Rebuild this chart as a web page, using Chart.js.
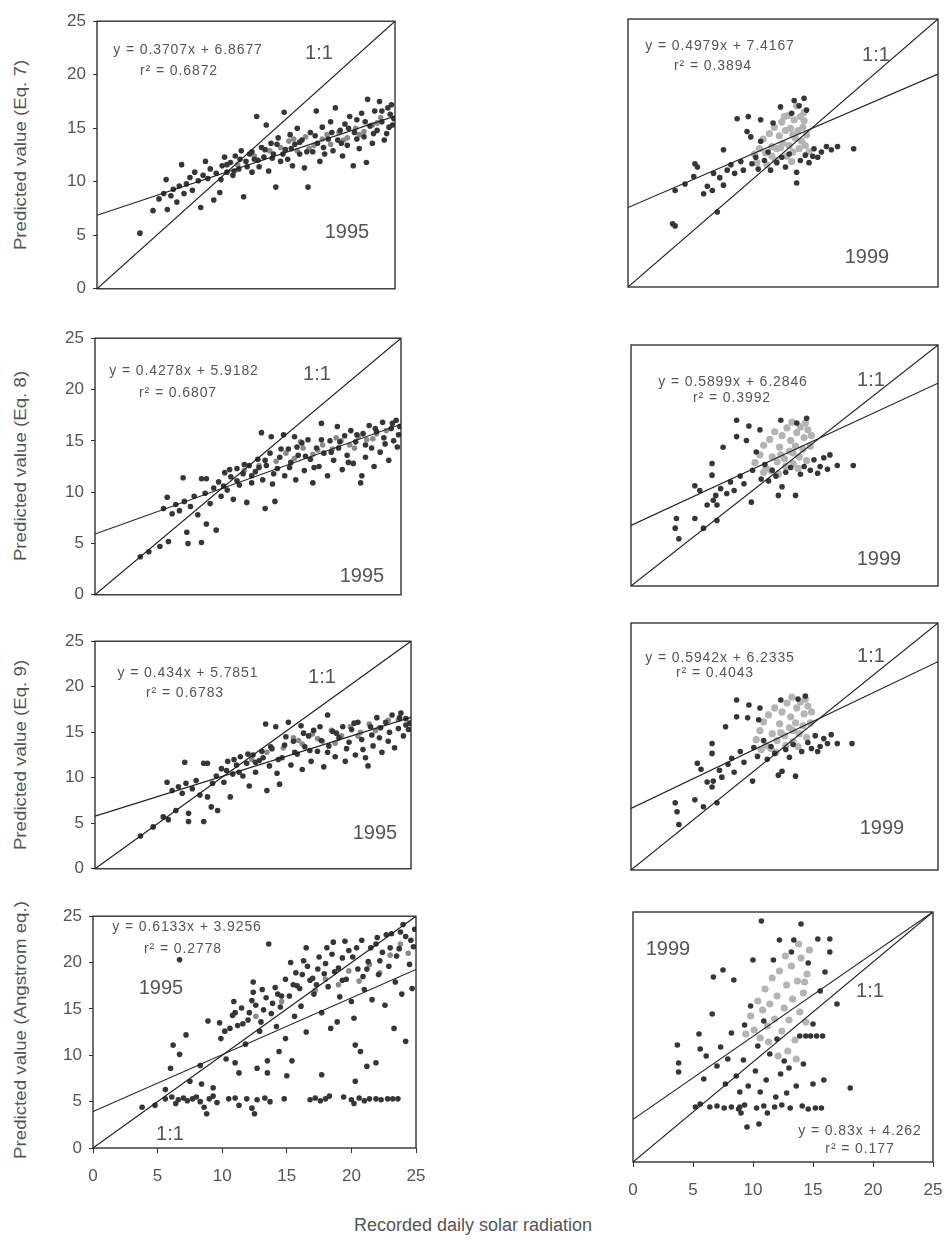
<!DOCTYPE html>
<html><head><meta charset="utf-8">
<script src="https://cdn.jsdelivr.net/npm/chart.js@4/dist/chart.umd.min.js"></script>
<style>
body{margin:0;background:#fff;width:945px;height:1242px;position:relative;overflow:hidden;font-family:'Liberation Sans',Arial,sans-serif;color:#4a4a4a}
canvas{position:absolute}
.t{position:absolute;transform:translate(-50%,-50%);white-space:nowrap;line-height:1}
.eq{font-size:14px;letter-spacing:0.9px;color:#555}
.big{font-size:20px;color:#555}
.yt{position:absolute;white-space:nowrap;line-height:1;font-size:17px;color:#555;transform:translate(-50%,-50%) rotate(-90deg) scaleX(1.1)}
.xt{font-size:18px;color:#555}
</style></head><body>
<script>
// ---------- DATA ----------
const axisTicks = [0, 5, 10, 15, 20, 25];
const yAxisTitles = ["Predicted value (Eq. 7)", "Predicted value (Eq. 8)", "Predicted value (Eq. 9)", "Predicted value (Angstrom eq.)"];
const xAxisTitle = "Recorded daily solar radiation";
const years = ["1995", "1999"];

const slopes1995 = [0.3707, 0.4278, 0.434, 0.6133];
const intercepts1995 = [6.8677, 5.9182, 5.7851, 3.9256];
const r2_1995 = ["0.6872", "0.6807", "0.6783", "0.2778"];
const slopes1999 = [0.4979, 0.5899, 0.5942, 0.83];
const intercepts1999 = [7.4167, 6.2846, 6.2335, 4.262];
const r2_1999 = ["0.3894", "0.3992", "0.4043", "0.177"];

const eq7_1995 = [[3.6,5.2],[4.7,7.3],[5.2,8.4],[5.6,8.9],[5.8,10.2],[5.9,7.4],[6.2,8.7],[6.4,9.3],[6.7,8.1],[6.9,9.6],[7.1,11.6],[7.3,8.9],[7.5,9.8],[7.8,10.4],[8.0,9.2],[8.2,10.9],[8.5,10.1],[8.7,7.6],[8.9,10.6],[9.1,11.9],[9.3,10.3],[9.5,11.2],[9.8,8.3],[10.0,10.8],[10.3,9.0],[10.5,11.5],[10.7,12.3],[10.9,10.9],[11.2,11.8],[11.4,10.6],[11.6,12.4],[11.9,11.2],[12.1,12.9],[12.3,8.6],[12.5,11.9],[12.8,12.6],[13.0,10.9],[13.2,12.1],[13.4,16.1],[13.6,11.4],[13.8,13.2],[14.0,12.3],[14.2,15.3],[14.4,11.0],[14.6,13.6],[14.8,12.6],[15.0,9.5],[15.2,14.1],[15.4,11.9],[15.7,16.5],[15.8,13.0],[16.0,12.1],[16.2,14.4],[16.4,11.5],[16.6,13.5],[16.8,15.0],[17.0,12.6],[17.2,13.9],[17.4,11.3],[17.7,9.5],[17.9,14.6],[18.1,12.8],[18.4,16.6],[18.5,13.6],[18.7,11.9],[18.9,15.1],[19.1,12.6],[19.4,14.0],[19.6,15.6],[19.8,12.9],[20.0,16.9],[20.2,13.9],[20.4,14.8],[20.6,12.4],[20.8,15.4],[21.0,13.4],[21.2,16.1],[21.5,11.5],[21.6,14.6],[21.8,15.8],[22.0,13.1],[22.2,16.4],[22.4,14.2],[22.6,11.8],[22.7,17.7],[22.9,15.2],[23.1,13.6],[23.3,16.6],[23.5,14.8],[23.7,17.5],[23.9,15.6],[24.1,13.9],[24.3,14.5],[24.4,16.9],[24.6,16.3],[24.8,15.3],[24.9,15.9],
 [10.4,10.2],[10.9,11.6],[11.5,11.0],[12.0,12.1],[12.6,11.4],[13.0,12.8],[13.5,12.0],[14.1,13.0],[14.7,12.2],[15.1,13.5],[15.6,12.6],[16.3,13.1],[17.0,13.7],[17.6,12.8],[18.3,14.3],[19.0,13.2],[19.7,14.6],[20.5,13.6],[21.1,15.0],[21.8,14.0],[22.5,15.6],[23.2,14.5],[23.9,16.6],[24.5,15.1],[24.7,17.2]];
const eq7_1995core = [[15.4,13.2],[16.1,13.8],[16.8,12.9],[17.5,14.2],[18.2,13.4],[18.9,14.0],[19.6,13.5],[20.3,14.6],[21.0,14.1],[21.7,15.0],[22.4,14.7],[23.1,15.3],[23.8,16.0],[13.2,12.4],[14.5,12.9],[11.8,11.6],[16.5,14.0],[17.8,13.1],[19.3,14.4],[20.7,13.9],[22.0,14.4],[23.5,15.5]];

const eq8_1995 = [[3.7,3.7],[4.4,4.2],[5.3,4.7],[5.6,8.4],[5.9,9.5],[6.0,5.2],[6.3,7.9],[6.6,8.8],[6.9,8.2],[7.2,11.4],[7.3,9.1],[7.5,6.1],[7.6,5.0],[7.8,8.6],[8.1,9.6],[8.4,7.8],[8.7,5.1],[8.7,11.3],[9.0,9.9],[9.1,6.9],[9.1,11.3],[9.4,8.9],[9.7,10.4],[9.9,6.3],[10.1,11.0],[10.3,9.6],[10.6,11.9],[10.8,10.2],[11.1,11.5],[11.3,9.3],[11.6,12.3],[11.8,10.7],[12.1,11.8],[12.4,9.0],[12.6,12.6],[12.8,10.9],[13.1,12.0],[13.3,13.2],[13.6,15.8],[13.7,11.2],[13.9,8.4],[14.0,12.6],[14.3,13.8],[14.4,15.4],[14.5,10.8],[14.7,9.1],[14.9,12.3],[15.1,13.4],[15.4,15.6],[15.5,11.6],[15.8,14.2],[16.0,12.9],[16.3,15.4],[16.4,11.2],[16.6,13.6],[16.9,14.8],[17.1,12.1],[17.4,15.1],[17.6,13.2],[17.8,10.9],[18.1,14.3],[18.3,12.5],[18.5,16.7],[18.7,13.8],[19.0,11.6],[19.2,15.0],[19.5,13.1],[19.8,16.4],[19.9,14.3],[20.2,12.2],[20.4,15.5],[20.6,13.6],[20.9,16.0],[21.1,12.8],[21.3,14.9],[21.7,10.9],[21.8,11.6],[21.9,15.7],[22.1,13.4],[22.4,16.5],[22.6,14.3],[22.8,12.5],[23.0,15.9],[23.3,13.9],[23.5,16.8],[23.7,14.7],[24.0,13.1],[24.2,16.2],[24.4,15.0],[24.6,17.0],[24.8,15.6],[24.9,16.4],
 [10.5,10.6],[11.0,12.2],[11.6,11.1],[12.2,12.7],[12.8,11.6],[13.4,12.4],[13.9,13.1],[14.6,11.8],[15.2,14.2],[15.9,12.4],[16.5,14.4],[17.2,13.5],[17.9,12.4],[18.5,15.1],[19.3,13.9],[20.0,14.9],[20.7,12.9],[21.4,15.6],[22.1,14.6],[22.9,16.2],[23.6,15.3],[24.3,16.7],[24.7,14.4]];
const eq8_1995core = [[14.8,13.0],[15.6,13.8],[16.3,13.3],[17.0,14.3],[17.8,13.7],[18.6,14.6],[19.4,14.2],[20.1,15.0],[20.8,14.6],[21.5,15.4],[22.2,15.1],[23.0,15.7],[23.8,16.0],[12.2,12.1],[13.4,12.6],[16.8,14.9],[18.2,14.1],[19.7,15.3],[21.2,14.3],[22.7,15.2]];

const eq9_1995 = [[3.6,3.6],[4.6,4.6],[5.4,5.7],[5.7,9.5],[5.8,5.4],[6.1,8.6],[6.4,6.4],[6.6,9.0],[6.9,8.3],[7.1,11.7],[7.2,9.4],[7.4,5.2],[7.4,6.1],[7.7,8.8],[8.0,9.7],[8.3,8.1],[8.6,5.2],[8.6,11.6],[8.9,7.9],[8.9,11.6],[9.2,6.8],[9.3,9.4],[9.6,10.2],[9.7,6.4],[10.0,11.0],[10.2,9.5],[10.5,11.8],[10.7,7.9],[10.9,10.4],[11.2,11.4],[11.5,12.3],[11.7,10.2],[12.0,11.6],[12.2,9.1],[12.5,12.5],[12.7,10.6],[13.0,11.9],[13.2,12.9],[13.5,15.9],[13.6,8.6],[13.8,11.3],[14.0,13.2],[14.3,15.6],[14.4,10.5],[14.6,9.3],[14.8,12.2],[15.0,13.6],[15.3,16.1],[15.5,11.4],[15.7,14.0],[16.0,12.6],[16.3,15.7],[16.4,10.9],[16.6,13.4],[16.9,14.6],[17.1,11.8],[17.3,15.2],[17.6,12.9],[17.9,14.1],[18.1,11.2],[18.4,16.9],[18.5,13.5],[18.8,15.1],[19.0,12.3],[19.3,14.4],[19.6,15.6],[19.8,11.8],[20.1,13.9],[20.3,15.3],[20.6,12.5],[20.8,16.1],[21.1,14.2],[21.4,12.2],[21.6,11.3],[21.8,15.6],[22.0,13.5],[22.3,16.6],[22.5,14.4],[22.7,12.8],[23.0,16.1],[23.2,14.0],[23.5,16.9],[23.7,13.3],[24.0,15.4],[24.2,17.1],[24.4,14.6],[24.6,16.5],[24.8,15.3],[24.9,16.0],
 [10.4,10.8],[11.0,12.0],[11.4,10.6],[12.1,12.6],[12.7,11.7],[13.3,12.2],[13.9,13.4],[14.5,12.0],[15.1,14.5],[15.8,12.8],[16.5,14.9],[17.0,13.0],[17.8,15.6],[18.4,12.8],[19.1,14.9],[19.9,13.2],[20.5,16.0],[21.2,13.1],[21.9,14.7],[22.6,15.5],[23.3,15.0],[24.1,16.6],[24.6,15.8]];
const eq9_1995core = [[14.9,13.3],[15.7,14.4],[16.4,13.7],[17.2,14.8],[18.0,14.0],[18.7,15.2],[19.5,14.6],[20.2,15.6],[21.0,15.0],[21.7,15.9],[22.5,15.5],[23.2,16.3],[24.0,16.4],[12.4,12.0],[13.6,12.8],[16.1,14.1],[17.6,14.3],[19.0,13.8],[20.8,14.6],[22.2,15.2]];

const ang_1995 = [[5.6,5.3],[6.1,5.5],[6.4,4.8],[6.6,5.2],[7.0,5.4],[7.3,5.1],[7.7,5.3],[8.0,5.5],[8.3,5.0],[8.6,4.4],[8.8,3.7],[9.0,5.3],[9.3,5.6],[9.6,4.9],[10.5,5.3],[11.0,5.4],[11.3,4.6],[11.9,5.3],[12.3,4.3],[12.5,3.7],[12.7,5.2],[13.3,5.4],[13.7,5.0],[14.8,5.3],[16.8,5.2],[17.2,5.4],[17.6,5.1],[18.0,5.3],[18.3,5.6],[19.4,5.5],[20.0,5.2],[20.2,4.8],[20.6,5.4],[21.0,5.1],[21.4,5.3],[21.9,5.3],[22.3,5.2],[22.8,5.3],[23.2,5.3],[23.6,5.3],
 [3.8,4.4],[4.8,4.6],[5.6,6.3],[6.0,8.6],[6.2,11.1],[6.7,10.1],[6.7,20.3],[7.2,12.2],[7.5,7.2],[8.3,8.9],[8.4,6.9],[8.9,13.7],[9.3,6.5],[9.8,13.5],[9.9,11.8],[10.3,9.6],[10.6,12.9],[10.9,15.8],[11.0,9.2],[11.3,8.1],[11.6,13.4],[11.8,11.2],[12.1,14.6],[12.4,17.9],[12.4,16.8],[12.7,8.6],[12.9,12.6],[13.2,14.9],[13.5,8.1],[13.5,9.4],[13.6,22.0],[13.9,15.6],[14.2,13.1],[14.4,10.4],[14.6,16.4],[14.9,11.8],[15.0,7.8],[15.3,20.0],[15.4,9.4],[15.6,14.2],[15.8,17.5],[16.1,15.3],[16.3,20.2],[16.5,21.6],[16.5,12.5],[16.8,18.1],[17.1,16.6],[17.4,19.3],[17.7,7.9],[17.7,14.6],[18.1,21.6],[18.2,17.4],[18.4,12.9],[18.6,22.2],[18.7,19.0],[18.9,13.6],[19.1,16.3],[19.3,20.5],[19.6,18.2],[19.8,21.3],[20.0,15.8],[20.2,14.0],[20.3,11.1],[20.3,7.2],[20.5,19.3],[20.7,10.4],[20.8,22.4],[21.0,17.1],[21.2,8.8],[21.3,20.1],[21.6,16.0],[21.9,9.2],[21.9,22.0],[22.1,18.7],[22.4,21.1],[22.6,15.4],[22.9,19.6],[23.1,23.1],[23.3,12.9],[23.4,17.9],[23.7,21.5],[23.9,16.6],[24.2,11.5],[24.2,22.8],[24.5,19.8],[24.7,17.2],[24.9,23.6],[24.8,21.7],
 [10.2,12.6],[10.8,14.3],[11.2,13.2],[11.5,15.1],[12.0,13.8],[12.6,15.4],[13.0,13.6],[13.4,16.2],[13.8,14.5],[14.1,17.3],[14.5,15.2],[14.9,18.2],[15.2,16.4],[15.7,18.9],[16.0,17.2],[16.6,19.6],[17.0,18.3],[17.5,20.6],[17.9,18.8],[18.5,20.9],[19.0,19.4],[19.5,22.3],[20.1,20.6],[20.9,18.5],[21.5,21.6],[22.2,20.2],[22.7,23.0],[23.5,20.7],[24.0,24.1],
 [11.0,14.6],[12.3,15.9],[13.1,17.1],[14.3,16.6],[15.5,17.6],[16.2,18.7],[17.3,17.6],[18.0,19.9],[19.3,18.1],[20.4,21.6],[21.2,19.3],[22.0,22.7],[23.0,21.6],[23.8,23.3],[24.6,22.4]];
const ang_1995core = [[17.2,17.0],[18.0,18.2],[19.0,17.6],[19.8,19.1],[20.6,18.0],[21.4,19.8],[22.2,18.9],[23.0,20.8],[23.8,22.0],[24.4,21.0],[12.6,14.2],[14.6,15.8]];

const eq7_1999 = [[3.6,5.9],[3.8,5.7],[3.8,9.0],[4.6,9.6],[5.3,10.3],[5.4,11.5],[5.6,11.2],[6.1,8.7],[6.4,9.4],[6.8,9.0],[6.9,10.6],[7.2,7.0],[7.4,10.2],[7.7,9.5],[7.7,12.8],[8.0,10.9],[8.3,11.4],[8.6,10.6],[8.8,15.7],[9.1,11.7],[9.3,10.9],[9.6,14.5],[9.7,15.9],[9.9,14.0],[10.0,11.5],[10.3,12.1],[10.5,11.0],[10.7,15.6],[10.7,13.6],[11.0,11.8],[11.3,12.6],[11.5,10.9],[11.7,15.3],[12.0,11.6],[12.3,16.8],[12.4,12.1],[12.7,11.2],[13.0,12.4],[13.2,16.2],[13.4,17.4],[13.6,9.7],[13.6,10.7],[13.8,16.9],[13.9,11.8],[14.2,17.6],[14.3,12.3],[14.4,16.5],[14.6,11.6],[14.9,12.2],[15.0,12.9],[15.3,12.1],[15.6,12.6],[16.0,13.1],[16.4,12.8],[16.9,13.1],[18.2,12.9]];
const eq7_1999core = [[10.2,12.4],[10.6,12.9],[10.9,13.8],[11.1,12.5],[11.4,14.3],[11.6,13.1],[11.8,14.9],[12.0,12.9],[12.2,14.1],[12.4,15.4],[12.5,13.4],[12.7,14.6],[12.9,16.0],[13.0,13.2],[13.1,14.8],[13.3,12.6],[13.4,15.6],[13.5,13.9],[13.7,14.6],[13.8,12.9],[13.9,15.9],[14.0,13.6],[14.1,14.9],[14.2,16.3],[14.3,13.2],[14.4,14.2],[11.9,11.8],[12.8,12.2],[10.4,11.6],[11.2,11.4],[12.6,15.9],[13.6,16.9],[13.2,11.7],[14.6,12.6],[11.6,12.2],[12.3,13.0],[13.3,14.2],[14.2,15.5]];

const eq8_1999 = [[3.6,6.0],[3.7,7.0],[3.9,4.9],[5.2,7.0],[5.2,10.4],[5.6,9.9],[5.9,6.0],[6.2,8.4],[6.6,12.7],[6.6,11.5],[6.7,8.9],[6.9,9.4],[7.0,6.8],[7.0,8.4],[7.3,10.1],[7.5,14.4],[7.8,9.6],[8.1,10.8],[8.4,9.9],[8.6,17.2],[8.6,15.5],[8.9,11.4],[9.2,10.6],[9.4,15.1],[9.6,16.6],[9.8,8.7],[9.9,12.0],[10.2,13.9],[10.5,16.2],[10.6,11.1],[10.9,12.6],[11.2,10.9],[11.5,12.0],[11.8,11.4],[12.0,9.4],[12.2,17.2],[12.3,10.3],[12.6,11.8],[13.0,12.3],[13.4,9.4],[13.5,16.9],[13.8,11.6],[14.1,12.4],[14.3,17.4],[14.6,12.0],[14.9,13.1],[15.2,11.7],[15.4,12.4],[15.7,13.3],[16.0,12.1],[16.2,13.6],[16.8,12.5],[18.1,12.5]];
const eq8_1999core = [[10.1,12.8],[10.5,13.6],[10.8,14.6],[11.0,12.2],[11.3,15.2],[11.5,13.4],[11.7,16.0],[11.9,12.9],[12.1,14.4],[12.3,15.6],[12.5,13.2],[12.7,16.4],[12.9,14.0],[13.0,15.1],[13.2,12.7],[13.4,14.5],[13.5,15.9],[13.7,13.4],[13.8,16.5],[14.0,14.2],[14.1,15.4],[14.3,13.0],[14.4,16.2],[14.6,14.5],[14.7,15.6],[12.0,11.6],[10.8,11.8],[13.1,17.0],[14.2,16.9],[11.4,12.0],[12.6,12.4],[13.6,12.2],[12.2,13.6],[13.2,13.8]];

const eq9_1999 = [[3.6,6.8],[3.75,5.9],[3.9,4.6],[5.2,7.1],[5.4,10.8],[5.7,10.2],[5.9,6.4],[6.2,8.9],[6.6,8.4],[6.6,11.8],[6.6,12.8],[6.7,9.0],[7.0,6.8],[7.2,10.1],[7.4,9.4],[7.7,14.5],[7.9,10.7],[8.2,11.3],[8.4,9.9],[8.6,17.2],[8.6,15.5],[8.9,12.0],[9.2,10.9],[9.5,15.4],[9.6,16.7],[9.9,9.0],[10.0,12.4],[10.3,11.5],[10.4,15.2],[10.5,16.4],[10.8,13.1],[11.1,11.2],[11.4,12.5],[11.7,11.8],[12.0,9.6],[12.2,17.2],[12.3,10.0],[12.6,12.2],[12.9,11.4],[13.2,12.7],[13.4,9.5],[13.6,17.3],[13.9,12.0],[14.2,17.6],[14.4,12.9],[14.7,12.3],[15.0,13.6],[15.2,12.0],[15.4,12.5],[15.7,13.3],[16.0,12.8],[16.3,13.7],[16.8,12.8],[18.0,12.8]];
const eq9_1999core = [[10.2,13.2],[10.5,14.1],[10.8,15.0],[11.0,12.6],[11.2,15.7],[11.5,13.8],[11.7,16.4],[11.9,13.1],[12.1,14.8],[12.3,16.0],[12.5,13.6],[12.7,16.9],[12.9,14.4],[13.0,15.5],[13.2,13.0],[13.4,14.9],[13.5,16.4],[13.7,13.8],[13.8,17.0],[14.0,14.6],[14.1,15.8],[14.3,13.4],[14.4,16.6],[14.6,14.9],[14.7,16.0],[11.8,11.9],[10.6,12.2],[13.1,17.5],[14.2,17.3],[11.4,12.3],[12.6,12.6],[13.6,12.5],[12.2,13.9],[13.2,14.1]];

const ang_1999 = [[5.2,5.5],[5.6,5.8],[6.4,5.5],[7.0,5.6],[7.6,5.4],[8.2,5.5],[8.8,5.3],[9.0,4.9],[9.3,5.7],[9.5,3.5],[10.3,5.4],[10.5,3.8],[10.9,5.6],[11.2,4.9],[11.8,5.5],[12.4,5.7],[13.1,5.4],[14.1,5.6],[14.6,5.3],[15.2,5.4],[15.7,5.4],
 [3.7,11.7],[3.8,9.9],[3.8,9.0],[5.5,12.8],[5.6,11.3],[5.9,8.3],[6.1,10.6],[6.6,14.8],[6.7,18.5],[7.0,9.6],[7.3,11.5],[7.5,19.2],[7.7,7.8],[7.9,10.3],[8.2,12.9],[8.4,18.2],[8.6,8.6],[8.9,5.5],[8.9,7.0],[9.2,10.2],[9.3,13.7],[9.6,7.6],[9.8,15.6],[10.0,20.2],[10.2,9.1],[10.4,11.6],[10.6,7.0],[10.7,24.1],[10.9,14.1],[11.1,8.2],[11.4,10.8],[11.7,20.2],[11.9,6.5],[12.0,12.3],[12.2,22.2],[12.3,8.8],[12.6,10.1],[12.8,6.9],[13.0,9.4],[13.2,21.0],[13.4,22.2],[13.6,7.6],[13.9,12.6],[14.0,23.8],[14.2,9.8],[14.4,12.6],[14.6,19.9],[14.8,12.6],[15.0,13.8],[15.0,7.8],[15.3,12.6],[15.4,22.3],[15.6,17.1],[15.8,12.6],[15.9,8.2],[16.0,19.0],[16.4,22.3],[16.4,21.0],[17.0,15.8],[18.1,7.4]];
const ang_1999core = [[9.4,12.8],[9.8,14.6],[10.1,13.2],[10.4,16.1],[10.6,12.4],[10.8,15.2],[11.0,17.3],[11.2,13.6],[11.4,15.8],[11.6,18.4],[11.8,14.3],[12.0,16.6],[12.2,19.1],[12.4,13.1],[12.6,15.4],[12.8,17.7],[13.0,14.2],[13.2,19.6],[13.3,16.3],[13.5,12.2],[13.7,18.1],[13.9,15.0],[14.0,20.4],[14.2,16.9],[14.4,14.0],[14.5,18.8],[14.7,21.2],[12.1,10.6],[12.9,11.1],[13.6,10.3],[11.3,12.0],[12.7,20.6],[13.8,21.8],[14.3,18.0]];

// ---------- LAYOUT (positions only) ----------
const panels = [
 {L:97, T:18, R:395, B:292, col:0, row:0, dark:eq7_1995, core:eq7_1995core,
  eq:[188,49], r2:[179,70], one:[319,52], yr:[347,231]},
 {L:95, T:335, R:401, B:598, col:0, row:1, dark:eq8_1995, core:eq8_1995core,
  eq:[184,370], r2:[178,392], one:[317,373], yr:[362,575]},
 {L:95, T:638, R:411, B:872, col:0, row:2, dark:eq9_1995, core:eq9_1995core,
  eq:[188,672], r2:[185,692], one:[322,676], yr:[375,832]},
 {L:93, T:913, R:416, B:1148, col:0, row:3, dark:ang_1995, core:ang_1995core,
  eq:[187,926], r2:[183,948], one:[170,1133], yr:[161,987]},
 {L:628, T:19, R:938, B:287, col:1, row:0, dark:eq7_1999, core:eq7_1999core,
  eq:[720,45], r2:[713,65], one:[876,54], yr:[867,256]},
 {L:631, T:345, R:938, B:586, col:1, row:1, dark:eq8_1999, core:eq8_1999core,
  eq:[733,381], r2:[732,397], one:[871,379], yr:[879,558]},
 {L:631, T:623, R:938, B:870, col:1, row:2, dark:eq9_1999, core:eq9_1999core,
  eq:[720,657], r2:[715,672], one:[871,655], yr:[882,827]},
 {L:633, T:912, R:933, B:1162, col:1, row:3, dark:ang_1999, core:ang_1999core,
  eq:[860,1130], r2:[860,1148], one:[870,990], yr:[668,948]}
];
const yTitlePos = [[20,155],[20,466],[20,755],[20,1030]];
const xTitlePos = [473,1225];

// ---------- DRAW ----------
const FONT = "'Liberation Sans', Arial, sans-serif";
const pts = a => a.map(p => ({x:p[0], y:p[1]}));
function addText(cls, txt, x, y){
  const d = document.createElement('div');
  d.className = 't ' + cls; d.textContent = txt;
  d.style.left = x + 'px'; d.style.top = y + 'px';
  document.body.appendChild(d);
}
const frame = {
  id:'frame',
  afterDatasetsDraw(chart){
    const a = chart.chartArea, c = chart.ctx;
    c.save(); c.strokeStyle = '#222'; c.lineWidth = 1.3;
    c.strokeRect(a.left, a.top, a.right - a.left, a.bottom - a.top);
    c.restore();
  }
};

panels.forEach((p, i) => {
  const left = p.col === 0, bottom = p.row === 3;
  const slope = left ? slopes1995[p.row] : slopes1999[p.row];
  const icpt = left ? intercepts1995[p.row] : intercepts1999[p.row];
  const yw = 34, padT = 14, padR = 26;
  const xh = bottom ? 36 : 14;
  const W = yw + (p.R - p.L) + padR, H = padT + (p.B - p.T) + xh;
  const cv = document.createElement('canvas');
  cv.width = W; cv.height = H;
  cv.style.left = (p.L - yw) + 'px'; cv.style.top = (p.T - padT) + 'px';
  document.body.appendChild(cv);
  const xmin = axisTicks[0], xmax = axisTicks[axisTicks.length - 1];
  new Chart(cv, {
    type:'scatter',
    data:{datasets:[
      {data:[{x:xmin,y:xmin},{x:xmax,y:xmax}], showLine:true, borderColor:'#1e1e1e', borderWidth:1.1, pointRadius:0, order:0},
      {data:[{x:xmin,y:icpt},{x:xmax,y:icpt + slope*xmax}], showLine:true, borderColor:'#1e1e1e', borderWidth:1.1, pointRadius:0, order:0},
      {data:pts(p.dark), backgroundColor:'#363636', borderWidth:0, pointRadius:2.8, order:1},
      {data:pts(p.core), backgroundColor: left ? '#8a8a8a' : '#b4b4b4', borderWidth:0, pointRadius: left ? 2.8 : 3.6, order:2}
    ]},
    options:{
      responsive:false, animation:false, devicePixelRatio:1,
      layout:{padding:{top:padT, right:padR, left:0, bottom:0}},
      plugins:{legend:{display:false}, tooltip:{enabled:false}},
      scales:{
        x:{type:'linear', min:xmin, max:xmax,
           afterBuildTicks: s => { s.ticks = axisTicks.map(v => ({value:v})); },
           afterFit: s => { s.height = xh; },
           grid:{display:bottom, drawOnChartArea:false, drawTicks:bottom, tickLength:5, color:'#333'},
           border:{display:false},
           ticks:{display:bottom, padding:13, color:'#555', font:{family:FONT, size:17}}},
        y:{type:'linear', min:xmin, max:xmax,
           afterBuildTicks: s => { s.ticks = axisTicks.map(v => ({value:v})); },
           afterFit: s => { s.width = yw; },
           grid:{display:left, drawOnChartArea:false, drawTicks:left, tickLength:4, color:'#333'},
           border:{display:false},
           ticks:{display:left, padding:7, color:'#555', font:{family:FONT, size:17}}}
      }
    },
    plugins:[frame]
  });
  const fmt = v => String(v);
  addText('eq', 'y = ' + fmt(slope) + 'x + ' + fmt(icpt), p.eq[0], p.eq[1]);
  addText('eq', 'r² = ' + (left ? r2_1995[p.row] : r2_1999[p.row]), p.r2[0], p.r2[1]);
  addText('big', '1:1', p.one[0], p.one[1]);
  addText('big', years[p.col], p.yr[0], p.yr[1]);
});

yAxisTitles.forEach((t, i) => {
  const d = document.createElement('div');
  d.className = 'yt'; d.textContent = t;
  d.style.left = yTitlePos[i][0] + 'px'; d.style.top = yTitlePos[i][1] + 'px';
  document.body.appendChild(d);
});
addText('xt', xAxisTitle, xTitlePos[0], xTitlePos[1]);
</script>
</body></html>
